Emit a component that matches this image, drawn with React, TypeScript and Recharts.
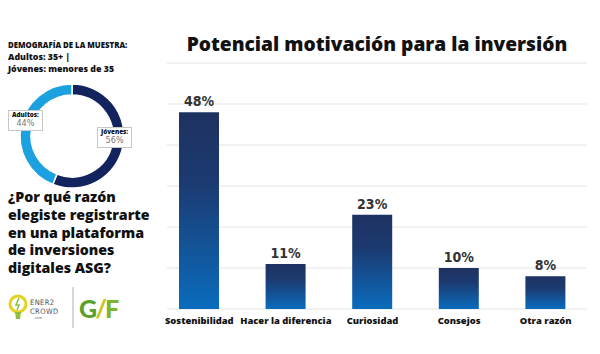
import React from 'react';
import {
  BarChart,
  Bar,
  XAxis,
  YAxis,
  CartesianGrid,
  LabelList,
  PieChart,
  Pie,
  Cell
} from 'recharts';

const reasons = ['Sostenibilidad', 'Hacer la diferencia', 'Curiosidad', 'Consejos', 'Otra razón'];
const shares = [48, 11, 23, 10, 8];
const yTicks = [0, 10, 20, 30, 40, 50, 60];

const groups = ['Jóvenes', 'Adultos'];
const groupShares = [56, 44];
const groupColors = ['#13235e', '#1ba1df'];

const questionLines = [
  '¿Por qué razón',
  'elegiste registrarte',
  'en una plataforma',
  'de inversiones',
  'digitales ASG?'
];

const barData = reasons.map((name, i) => ({ name, value: shares[i] }));
const pieData = groups.map((name, i) => ({ name, value: groupShares[i] }));

const sans = '"Open Sans", Lato, sans-serif';
const narrow = '"DejaVu Sans Condensed", sans-serif';

const LabelBox = ({ left, top, title, value }: any) => (
  <div
    style={{
      position: 'absolute',
      left,
      top,
      background: '#fff',
      border: '1px solid #c8c8c8',
      padding: '1px 3px',
      fontFamily: sans,
      lineHeight: 1.1,
      textAlign: 'center'
    }}
  >
    <div style={{ fontSize: 6.3, fontWeight: 800, color: '#111' }}>{title}</div>
    <div style={{ fontSize: 9, color: '#777', fontFamily: narrow }}>{value}%</div>
  </div>
);

const Logos = () => (
  <svg width={140} height={50} style={{ position: 'absolute', left: 6, top: 284 }}>
    {/* bulb */}
    <circle cx={12} cy={20} r={8} fill="none" stroke="#e4d21f" strokeWidth={3} />
    <path d="M9 28 L15 28 L14 35 L10 35 Z" fill="#8fbf3a" />
    <path d="M13 14 L10 21 L13 21 L11 26" fill="none" stroke="#8fbf3a" strokeWidth={1.5} />
    <text x={24} y={21} fontSize={7.5} fontFamily={narrow} fill="#555" letterSpacing={0.4}>ENER2</text>
    <text x={24} y={30} fontSize={7.5} fontFamily={narrow} fill="#555" letterSpacing={0.4}>CROWD</text>
    <text x={28} y={35} fontSize={3.5} fontFamily={sans} fill="#555">.com</text>
    <line x1={67} y1={3} x2={67} y2={44} stroke="#999" strokeWidth={0.8} />
    <text x={73} y={34} fontSize={25} fontWeight={900} fontFamily="Lato, sans-serif" letterSpacing={-2}>
      <tspan fill="#5aa02c">G</tspan>
      <tspan fill="#c9c21e">/</tspan>
      <tspan fill="#7db52d">F</tspan>
    </text>
  </svg>
);

export default function App() {
  return (
    <div style={{ position: 'absolute', left: 0, top: 0, width: 600, height: 354, background: '#fff', overflow: 'hidden' }}>
      <div
        style={{
          position: 'absolute',
          left: 160,
          top: 30,
          width: 434,
          textAlign: 'center',
          fontFamily: sans,
          fontWeight: 800,
          fontSize: 19.2,
          color: '#111'
        }}
      >
        Potencial motivación para la inversión
      </div>

      <BarChart
        width={600}
        height={354}
        data={barData}
        margin={{ top: 63, right: 11, left: 156, bottom: 15 }}
        style={{ position: 'absolute', left: 0, top: 0 }}
      >
        <defs>
          <linearGradient id="barFill" x1="0" y1="0" x2="0" y2="1">
            <stop offset="0%" stopColor="#1e3261" />
            <stop offset="35%" stopColor="#1c3a70" />
            <stop offset="100%" stopColor="#0a6cbd" />
          </linearGradient>
        </defs>
        <CartesianGrid vertical={false} stroke="#e4e4e4" x={167} width={420} />
        <YAxis hide domain={[0, 60]} ticks={yTicks} />
        <XAxis
          dataKey="name"
          axisLine={false}
          tickLine={false}
          interval={0}
          tick={{ fontSize: 9.4, fontWeight: 800, fill: '#111', fontFamily: sans }}
        />
        <Bar dataKey="value" fill="url(#barFill)" barSize={40} isAnimationActive={false}>
          <LabelList
            dataKey="value"
            position="top"
            offset={6}
            formatter={(v: any) => `${v}%`}
            style={{ fontSize: 14, fontWeight: 700, fill: '#333', fontFamily: narrow }}
          />
        </Bar>
      </BarChart>

      <div style={{ position: 'absolute', left: 8, top: 39, fontFamily: sans, color: '#111', fontWeight: 800 }}>
        <div style={{ fontSize: 7.8, lineHeight: '12px' }}>DEMOGRAFÍA DE LA MUESTRA:</div>
        <div style={{ fontSize: 8.8, lineHeight: '12px' }}>Adultos: 35+ |</div>
        <div style={{ fontSize: 8.8, lineHeight: '12px' }}>Jóvenes: menores de 35</div>
      </div>

      <PieChart width={150} height={200} style={{ position: 'absolute', left: 0, top: 0 }}>
        <Pie
          data={pieData}
          dataKey="value"
          cx={67}
          cy={131}
          innerRadius={41}
          outerRadius={52}
          startAngle={90}
          endAngle={-270}
          stroke="#fff"
          strokeWidth={1.5}
          isAnimationActive={false}
        >
          {pieData.map((d, i) => (
            <Cell key={d.name} fill={groupColors[i]} />
          ))}
        </Pie>
      </PieChart>
      <LabelBox left={8} top={110} title="Adultos:" value={44} />
      <LabelBox left={97} top={127} title="Jóvenes:" value={56} />

      <div
        style={{
          position: 'absolute',
          left: 8,
          top: 188,
          fontFamily: sans,
          fontWeight: 800,
          fontSize: 14.2,
          lineHeight: '17.8px',
          color: '#111'
        }}
      >
        {questionLines.map((l) => (
          <div key={l}>{l}</div>
        ))}
      </div>

      <Logos />
    </div>
  );
}
